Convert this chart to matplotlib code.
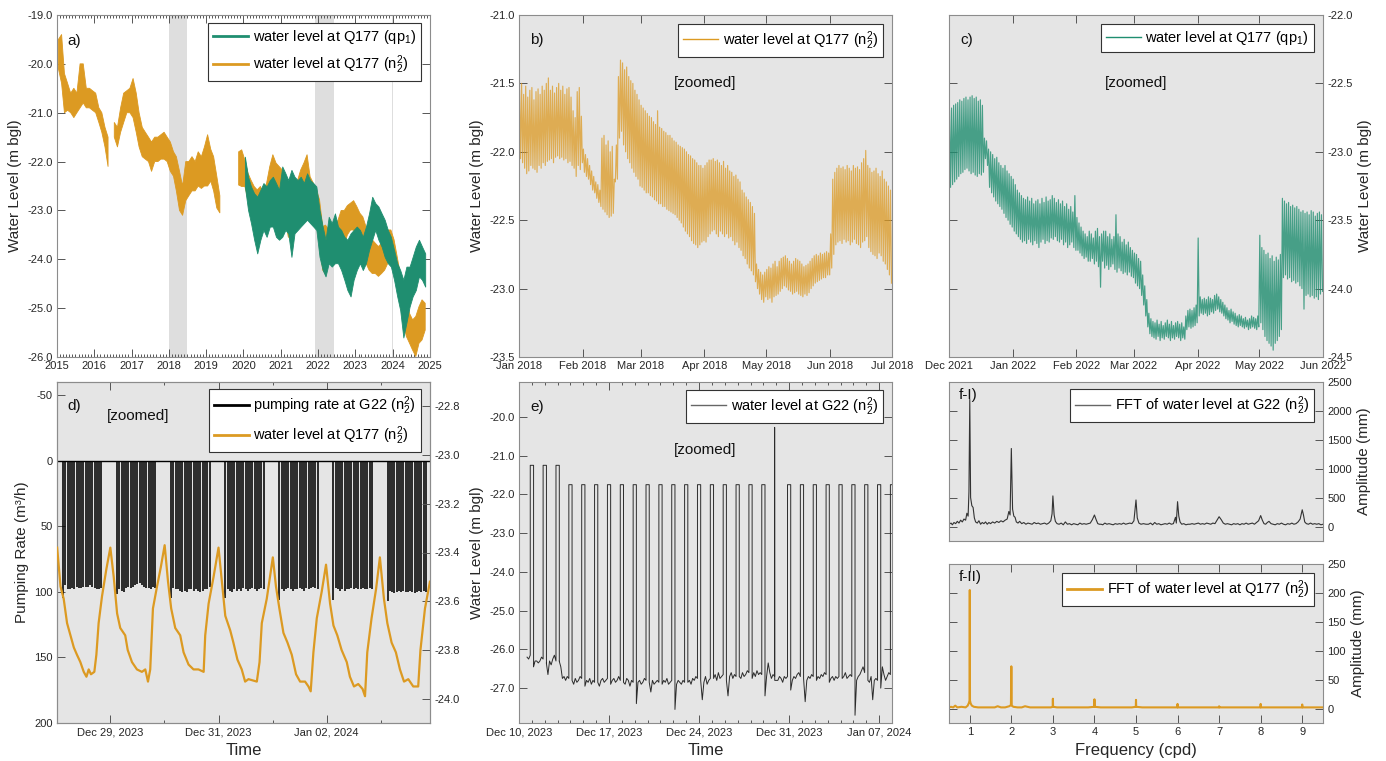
import numpy as np
import matplotlib
matplotlib.use('Agg')
import matplotlib.pyplot as plt
import matplotlib.dates as mdates
from matplotlib.lines import Line2D

plt.rcParams['font.family'] = ['Liberation Sans', 'DejaVu Sans']
plt.rcParams['mathtext.fontset'] = 'custom'
plt.rcParams['mathtext.rm'] = 'Liberation Sans'
plt.rcParams['mathtext.it'] = 'Liberation Sans:italic'
plt.rcParams['mathtext.default'] = 'regular'
plt.rcParams['axes.unicode_minus'] = False

ORANGE = '#DC9A22'
GREEN = '#1F8E70'
BG = '#E5E5E5'
SPAN = '#DEDEDE'
EDGE = '#8C8C8C'
TXT = '#262626'

# ---------------- data ----------------
# zoom windows
b_window = ('2018-01-01', '2018-07-01')
c_window = ('2021-12-01', '2022-06-01')
d_window = ('2023-12-28T00:20', '2024-01-03T21:50')
e_window = ('2023-12-10', '2024-01-08')

# a) monthly high / low of the noisy band, Q177 n2^2 from Jan 2015, qp1 from Jan 2020
a_n_start = '2015-01'
a_n_high = [
    -19.5, -19.4, -20.2, -20.4, -20.6, -20.5, -20.6, -20.0, -20.0, -20.5, -20.5, -20.55,
    -20.6, -20.9, -21.0, -21.3, -21.5, np.nan, -21.2, -21.3, -20.9, -20.6, -20.55, -20.5,
    -20.3, -20.6, -21.0, -21.3, -21.4, -21.5, -21.6, -21.5, -21.5, -21.45, -21.4, -21.5,
    -21.6, -21.8, -21.9, -22.2, -22.5, -22.0, -22.0, -21.9, -22.0, -21.8, -21.9, -21.7,
    -21.45, -21.75, -21.9, -22.3, -22.7, np.nan, np.nan, np.nan, np.nan, np.nan, -21.8, -21.76,
    -21.97, -22.24, -22.38, -22.51, -22.58, -22.51, -22.65, -22.44, -22.10, -21.86, -22.03, -22.10,
    -22.17, -22.31, -22.44, -22.58, -22.51, -22.38, -22.17, -22.03, -21.86, -22.31, -22.44, -22.58,
    -22.78, -23.33, -23.30, -23.40, -23.30, -23.30, -23.20, -23.00, -23.00, -22.90, -22.85, -22.80,
    -22.92, -23.06, -23.13, -23.33, -23.54, -23.60, -23.67, -23.74, -23.67, -23.54, -23.40, -23.40,
    -23.60, -23.95, -24.29, -24.56, -24.83, -25.11, -25.24, -25.17, -24.97, -24.83, -24.90]
a_n_low = [
    -20.1, -20.4, -21.0, -20.95, -21.0, -21.1, -21.0, -20.9, -20.8, -20.9, -20.9, -20.95,
    -21.0, -21.2, -21.4, -21.7, -22.1, np.nan, -21.5, -21.7, -21.4, -21.2, -21.0, -21.0,
    -21.1, -21.4, -21.7, -21.9, -21.95, -22.0, -22.2, -22.0, -22.0, -21.95, -21.95, -22.0,
    -22.2, -22.3, -22.6, -23.0, -23.1, -22.8, -22.7, -22.6, -22.6, -22.5, -22.55, -22.5,
    -22.5, -22.4, -22.6, -22.95, -23.05, np.nan, np.nan, np.nan, np.nan, np.nan, -22.48, -22.51,
    -22.51, -22.78, -22.99, -23.26, -23.40, -23.33, -23.19, -22.92, -22.78, -22.65, -22.78, -22.92,
    -23.06, -23.19, -23.54, -23.60, -23.40, -23.26, -22.92, -22.72, -22.58, -22.92, -22.99, -23.26,
    -23.67, -24.22, -24.30, -24.00, -24.00, -24.00, -23.90, -23.80, -23.70, -23.50, -23.40, -23.40,
    -23.54, -23.60, -23.81, -24.08, -24.22, -24.29, -24.29, -24.35, -24.29, -24.22, -24.08, -24.01,
    -24.22, -24.56, -24.90, -25.31, -25.58, -25.72, -25.86, -25.99, -25.72, -25.65, -25.45]
a_qp_start = '2020-01'
a_qp_high = [
    -21.90, -22.31, -22.51, -22.65, -22.72, -22.58, -22.44, -22.51, -22.38, -22.31, -22.44, -22.58,
    -22.10, -22.24, -22.38, -22.17, -22.31, -22.38, -22.31, -22.44, -22.24, -22.38, -22.44, -22.51,
    -22.99, -23.33, -23.60, -23.13, -23.26, -23.06, -23.33, -23.40, -23.54, -23.60, -23.47, -23.40,
    -23.33, -23.40, -23.54, -23.33, -23.06, -22.72, -22.85, -22.92, -23.06, -23.19, -23.40, -23.54,
    -23.81, -24.08, -24.22, -24.42, -24.15, -24.15, -23.95, -23.74, -23.60, -23.74, -23.88]
a_qp_low = [
    -22.51, -22.99, -23.26, -23.60, -23.88, -23.60, -23.40, -23.54, -23.33, -23.33, -23.54, -23.60,
    -23.54, -23.40, -23.47, -23.95, -23.47, -23.40, -23.33, -23.26, -23.19, -23.26, -23.33, -23.40,
    -23.95, -24.22, -24.35, -24.08, -24.15, -24.08, -24.08, -24.22, -24.42, -24.63, -24.76, -24.42,
    -24.22, -24.08, -24.22, -24.08, -23.81, -23.60, -23.40, -23.60, -23.74, -23.95, -24.08, -24.15,
    -24.42, -24.76, -25.04, -25.60, -25.30, -24.97, -24.76, -24.63, -24.35, -24.42, -24.56]

# b) daily high / low, Q177 n2^2, Jan-Jun 2018
b_high = [
    -21.55, -21.50, -21.58, -21.52, -21.60, -21.55, -21.53, -21.62, -21.56, -21.54, -21.58, -21.52, -21.55, -21.50, -21.46, -21.55,
    -21.52, -21.57, -21.53, -21.50, -21.55, -21.52, -21.58, -21.54, -21.53, -21.60, -21.70, -21.75, -21.56, -21.53, -21.74,
    -21.98, -22.02, -22.05, -22.10, -22.14, -22.18, -22.22, -22.24, -22.28, -21.90, -21.88, -21.95, -21.92, -22.00, -21.96,
    -22.20, -21.95, -21.45, -21.33, -21.35, -21.40, -21.38, -21.45, -21.48, -21.50, -21.55, -21.58, -21.62,
    -21.66, -21.68, -21.70, -21.72, -21.74, -21.75, -21.78, -21.80, -21.70, -21.82, -21.83, -21.85, -21.86, -21.88, -21.88, -21.90,
    -21.92, -21.93, -21.95, -21.96, -21.97, -21.98, -22.00, -22.02, -22.03, -22.05, -22.06, -22.08, -22.10, -22.10, -22.12,
    -22.10, -22.08, -22.06, -22.06, -22.05, -22.07, -22.06, -22.08, -22.10, -22.07, -22.12, -22.10, -22.14, -22.15, -22.18,
    -22.17, -22.20, -22.22, -22.28, -22.30, -22.33, -22.35, -22.37, -22.40, -22.45, -22.82, -22.86, -22.88, -22.90, -22.88,
    -22.86, -22.84, -22.85, -22.82, -22.80, -22.84, -22.80, -22.78, -22.77, -22.76, -22.78, -22.80, -22.82, -22.80, -22.78, -22.79,
    -22.80, -22.82, -22.84, -22.83, -22.82, -22.80, -22.78, -22.76, -22.75, -22.76, -22.74, -22.75, -22.74, -22.73, -22.74,
    -22.60, -22.20, -22.15, -22.12, -22.10, -22.12, -22.11, -22.13, -22.10, -22.12, -22.14, -22.10, -22.12, -22.11, -22.13,
    -22.08, -22.05, -21.99, -22.10, -22.12, -22.15, -22.14, -22.12, -22.16, -22.18, -22.14, -22.20, -22.22, -22.25, -22.28]
b_low = [
    -22.05, -22.08, -22.12, -22.16, -22.14, -22.10, -22.12, -22.13, -22.15, -22.10, -22.12, -22.08, -22.10, -22.07, -22.06, -22.05,
    -22.08, -22.04, -22.03, -22.05, -22.04, -22.06, -22.05, -22.08, -22.07, -22.10, -22.12, -22.18, -22.10, -22.13, -22.08,
    -22.15, -22.18, -22.20, -22.24, -22.28, -22.30, -22.34, -22.37, -22.40, -22.42, -22.44, -22.46, -22.48, -22.47, -22.45,
    -22.22, -22.20, -21.90, -21.85, -21.95, -22.00, -22.05, -22.08, -22.12, -22.15, -22.18, -22.20, -22.25,
    -22.26, -22.28, -22.30, -22.30, -22.32, -22.33, -22.35, -22.36, -22.38, -22.38, -22.40, -22.40, -22.42, -22.43, -22.44, -22.45,
    -22.46, -22.48, -22.50, -22.52, -22.55, -22.58, -22.60, -22.62, -22.65, -22.67, -22.68, -22.70, -22.68, -22.66, -22.65,
    -22.66, -22.62, -22.60, -22.58, -22.57, -22.60, -22.62, -22.58, -22.60, -22.62, -22.60, -22.63, -22.62, -22.65, -22.68,
    -22.66, -22.70, -22.72, -22.76, -22.78, -22.82, -22.85, -22.87, -22.90, -22.95, -23.00, -23.04, -23.08, -23.10, -23.06,
    -23.08, -23.07, -23.10, -23.06, -23.05, -23.04, -23.02, -23.00, -22.98, -22.99, -23.01, -23.02, -23.04, -23.03, -23.02, -23.04,
    -23.05, -23.06, -23.04, -23.05, -23.03, -23.00, -22.98, -22.96, -22.95, -22.94, -22.93, -22.92, -22.92, -22.90, -22.90,
    -22.85, -22.75, -22.68, -22.66, -22.65, -22.67, -22.64, -22.66, -22.65, -22.68, -22.66, -22.64, -22.67, -22.68, -22.70,
    -22.66, -22.65, -22.62, -22.70, -22.73, -22.75, -22.76, -22.78, -22.74, -22.76, -22.80, -22.82, -22.86, -22.90, -22.96]

# c) daily high / low, Q177 qp1, Dec 2021 - May 2022
c_high = [
    -22.70, -22.68, -22.66, -22.65, -22.64, -22.62, -22.63, -22.61, -22.60, -22.62, -22.60, -22.59, -22.61, -22.60, -22.63, -22.62,
    -22.66, -22.90, -22.92, -22.98, -23.00, -23.02, -23.05, -23.04, -23.08, -23.10, -23.12, -23.10, -23.14, -23.16, -23.18,
    -23.20, -23.24, -23.28, -23.30, -23.32, -23.34, -23.35, -23.33, -23.36, -23.34, -23.38, -23.36, -23.35, -23.38, -23.34, -23.37,
    -23.33, -23.36, -23.35, -23.32, -23.34, -23.37, -23.35, -23.38, -23.36, -23.40, -23.38, -23.42, -23.40, -23.44, -23.32,
    -23.48, -23.52, -23.55, -23.58, -23.60, -23.62, -23.58, -23.60, -23.63, -23.58, -23.56, -23.62, -23.60, -23.58,
    -23.58, -23.62, -23.60, -23.64, -23.62, -23.46, -23.60, -23.62, -23.66, -23.64, -23.68, -23.66, -23.70, -23.72,
    -23.74, -23.75, -23.78, -23.80, -23.90, -23.98, -24.08, -24.18, -24.22, -24.24, -24.25, -24.23, -24.26, -24.24, -24.27, -24.25,
    -24.23, -24.26, -24.24, -24.27, -24.25, -24.24, -24.26, -24.25, -24.28, -24.20, -24.16, -24.15, -24.16, -24.14, -24.12,
    -23.63, -24.06, -24.08, -24.07, -24.08, -24.06, -24.07, -24.08, -24.05, -24.04, -24.06, -24.08, -24.10, -24.12, -24.14,
    -24.16, -24.15, -24.17, -24.18, -24.20, -24.19, -24.20, -24.22, -24.21, -24.23, -24.22, -24.20, -24.21, -24.22, -24.20,
    -23.61, -23.70, -23.72, -23.75, -23.74, -23.78, -23.76, -23.80, -23.77, -23.79, -23.75, -23.34, -23.36, -23.38, -23.37, -23.40,
    -23.39, -23.41, -23.40, -23.42, -23.44, -23.43, -23.45, -23.44, -23.46, -23.43, -23.44, -23.47, -23.45, -23.44, -23.46]
c_low = [
    -23.26, -23.24, -23.22, -23.20, -23.18, -23.16, -23.15, -23.13, -23.12, -23.14, -23.16, -23.15, -23.17, -23.18, -23.16, -23.17,
    -23.15, -23.05, -23.10, -23.26, -23.30, -23.33, -23.36, -23.38, -23.40, -23.42, -23.45, -23.48, -23.50, -23.53, -23.55,
    -23.58, -23.60, -23.62, -23.64, -23.66, -23.65, -23.67, -23.64, -23.66, -23.68, -23.65, -23.67, -23.70, -23.66, -23.64, -23.67,
    -23.65, -23.66, -23.63, -23.64, -23.62, -23.65, -23.66, -23.64, -23.68, -23.66, -23.70, -23.68, -23.66, -23.70, -23.72,
    -23.72, -23.74, -23.76, -23.78, -23.77, -23.80, -23.80, -23.78, -23.82, -23.80, -23.84, -23.99, -23.80, -23.85,
    -23.83, -23.86, -23.84, -23.82, -23.86, -23.88, -23.85, -23.87, -23.89, -23.88, -23.90, -23.88, -23.91, -23.92,
    -23.96, -23.98, -24.00, -24.05, -24.12, -24.20, -24.28, -24.33, -24.35, -24.36, -24.37, -24.35, -24.38, -24.36, -24.37, -24.35,
    -24.36, -24.38, -24.36, -24.37, -24.35, -24.36, -24.38, -24.36, -24.37, -24.30, -24.28, -24.29, -24.28, -24.27, -24.25,
    -24.20, -24.18, -24.19, -24.18, -24.20, -24.19, -24.17, -24.18, -24.16, -24.15, -24.17, -24.18, -24.20, -24.22, -24.23,
    -24.25, -24.24, -24.26, -24.27, -24.28, -24.27, -24.28, -24.29, -24.28, -24.30, -24.29, -24.28, -24.29, -24.30, -24.28,
    -24.25, -24.30, -24.35, -24.38, -24.40, -24.42, -24.45, -24.40, -24.38, -24.35, -24.30, -23.92, -23.90, -23.93, -23.92, -23.95,
    -23.94, -23.96, -23.95, -23.98, -24.00, -24.15, -24.05, -24.04, -24.06, -24.05, -24.07, -24.06, -24.08, -24.04, -24.02]

# d) water level at Q177 (hours after 28 Dec 2023 00:00) and pumping at G22
d_origin = '2023-12-28T00:00'
d_wl_hours = [0.4, 1.9, 3.3, 4.8, 6.3, 7.8, 9.2, 10.7, 12.2, 13.4, 14.4, 15.4, 16.9, 17.8, 18.8, 20.3, 22.2, 24.0,
              25.5, 27.0, 28.4, 30.6, 31.7, 33.6, 35.8, 38.0, 39.5, 40.7, 41.7, 42.9, 44.7, 46.4, 48.1,
              49.6, 51.0, 52.8, 55.0, 56.5, 58.7, 60.9, 63.1, 65.4, 66.1, 67.6, 69.8, 72.0,
              73.5, 75.0, 77.2, 78.6, 80.4, 82.3, 83.8, 85.3, 89.0, 90.2, 91.2, 93.4, 96.1,
              97.5, 99.0, 100.8, 102.6, 104.5, 106.4, 108.2, 110.4, 111.9, 112.9, 114.1, 115.6, 117.8, 119.7,
              121.5, 123.0, 124.7, 126.6, 128.9, 130.3, 132.1, 134.0, 135.9, 137.0, 138.0, 139.9, 141.9, 143.6,
              145.4, 146.9, 148.8, 150.7, 152.5, 154.3, 156.2, 158.4, 160.6, 161.6, 163.6, 165.8]
d_wl = [-23.38, -23.54, -23.59, -23.69, -23.74, -23.79, -23.82, -23.85, -23.89, -23.91, -23.88, -23.90, -23.89, -23.82, -23.69, -23.58, -23.47, -23.38,
        -23.50, -23.65, -23.71, -23.74, -23.80, -23.85, -23.88, -23.89, -23.88, -23.93, -23.88, -23.63, -23.54, -23.46, -23.37,
        -23.52, -23.63, -23.71, -23.74, -23.81, -23.86, -23.88, -23.88, -23.89, -23.74, -23.61, -23.50, -23.38,
        -23.52, -23.66, -23.72, -23.77, -23.84, -23.88, -23.93, -23.92, -23.93, -23.85, -23.69, -23.59, -23.42,
        -23.54, -23.63, -23.73, -23.77, -23.82, -23.90, -23.93, -23.93, -23.95, -23.97, -23.81, -23.67, -23.56, -23.45,
        -23.61, -23.70, -23.74, -23.80, -23.85, -23.91, -23.95, -23.94, -23.96, -23.99, -23.81, -23.67, -23.55, -23.42,
        -23.59, -23.69, -23.77, -23.81, -23.88, -23.93, -23.92, -23.95, -23.95, -23.80, -23.63, -23.52]
d_pump_start_hours = [3, 27, 51, 75, 99, 123, 147]
d_pump_rates = [
    [105, 95, 98, 98, 97, 98, 96, 97, 97, 96, 96, 96, 95, 96, 97, 98, 98, 97],
    [102, 98, 99, 100, 97, 96, 97, 96, 95, 94, 93, 95, 96, 97, 97, 98, 96, 97],
    [105, 97, 98, 98, 99, 100, 99, 100, 98, 98, 99, 98, 99, 100, 99, 98, 98, 96],
    [105, 98, 99, 100, 98, 99, 98, 99, 97, 98, 99, 98, 97, 98, 99, 98, 97, 98],
    [106, 98, 99, 98, 97, 98, 99, 98, 98, 97, 98, 99, 97, 98, 97, 96, 97, 98],
    [106, 97, 98, 99, 98, 99, 98, 98, 97, 98, 97, 98, 98, 97, 98, 98, 97, 98],
    [107, 99, 100, 101, 100, 99, 100, 99, 100, 100, 99, 100, 101, 100, 99, 100, 99, 100]]
d_tick_days = [29, 31, 2]

# e) water level at G22, one row per day from 10 Dec 2023, sampled at these hours
e_origin = '2023-12-10T00:00'
e_sample_hours = [3, 6, 9, 12, 15, 18, 21]
e_base = [
    [np.nan, np.nan, np.nan, np.nan, -26.20, -26.25, -26.15],
    [-26.45, -26.30, -26.30, -26.35, -26.30, -26.20, -26.25],
    [-26.35, -26.65, -26.30, -26.40, -26.25, -26.15, -26.30],
    [-26.30, -26.45, -26.75, -26.70, -26.80, -26.70, -26.75],
    [-26.80, -26.90, -26.75, -26.85, -26.80, -26.70, -26.75],
    [-26.95, -26.80, -26.85, -26.75, -26.90, -26.80, -26.85],
    [-26.85, -26.95, -26.80, -26.75, -26.85, -26.80, -26.75],
    [-26.90, -26.80, -26.75, -26.85, -26.80, -26.70, -26.80],
    [-26.85, -26.90, -26.75, -26.80, -26.95, -26.80, -26.85],
    [-27.40, -26.85, -26.80, -26.90, -26.85, -26.75, -26.80],
    [-26.85, -27.10, -26.80, -26.90, -26.85, -26.80, -26.85],
    [-26.90, -26.80, -26.85, -26.75, -26.90, -26.85, -26.80],
    [-27.55, -26.90, -26.80, -26.85, -26.90, -26.80, -26.85],
    [-26.85, -26.80, -26.90, -26.75, -26.80, -26.70, -26.75],
    [-26.80, -27.30, -26.85, -26.70, -26.90, -26.80, -26.75],
    [-26.75, -26.65, -26.80, -26.60, -26.75, -26.70, -26.65],
    [-26.80, -27.20, -26.70, -26.60, -26.75, -26.65, -26.70],
    [-26.70, -26.75, -26.60, -26.70, -26.65, -26.55, -26.60],
    [-26.75, -26.60, -26.70, -26.55, -26.65, -26.60, -26.65],
    [-27.20, -26.70, -26.35, -26.60, -26.75, -26.65, -26.70],
    [-26.80, -26.70, -26.75, -26.85, -26.70, -26.75, -26.70],
    [-27.05, -26.80, -26.70, -26.75, -26.65, -26.60, -26.70],
    [-26.75, -27.35, -26.80, -26.70, -26.75, -26.65, -26.70],
    [-26.80, -26.70, -26.75, -26.65, -26.70, -26.60, -26.65],
    [-26.85, -26.75, -26.70, -26.80, -26.70, -26.75, -26.70],
    [-26.75, -26.70, -26.60, -26.75, -26.70, -26.65, -26.70],
    [-27.70, -26.80, -26.70, -26.65, -26.55, -26.45, -26.60],
    [-26.80, -26.85, -26.70, -27.30, -26.80, -26.75, -26.80],
    [-27.00, -26.45, -26.65, -26.80, -26.70, -26.60, -26.65]]
e_top = [-21.25, -21.25, -21.25, -21.75, -21.75, -21.75, -21.75, -21.75, -21.75, -21.75,
         -21.75, -21.75, -21.75, -21.75, -21.75, -21.75, -21.75, -21.75, -21.75, -20.27,
         -21.75, -21.75, -21.75, -21.75, -21.75, -21.75, -21.75, -21.75, -21.75]
e_off_hours = [6.2, 6.2, 6.2, 6.0, 6.0, 6.0, 6.0, 6.0, 6.0, 6.0,
               6.0, 6.0, 6.0, 6.0, 6.0, 6.0, 6.0, 6.0, 6.0, 0.2,
               6.0, 6.0, 6.0, 6.0, 6.0, 6.0, 6.0, 6.0, 6.0]
e_tick_days = [10, 17, 24, 31, 7]

# f-I) FFT amplitude of G22 (mm)
f1_freq = [
    0.50, 0.55, 0.58, 0.62, 0.66, 0.70, 0.74, 0.78, 0.82, 0.86,
    0.90, 0.93, 0.96, 0.98, 1.00, 1.02, 1.05, 1.08, 1.11, 1.14,
    1.18, 1.22, 1.26, 1.30, 1.34, 1.38, 1.42, 1.46, 1.50, 1.55,
    1.60, 1.65, 1.70, 1.75, 1.80, 1.85, 1.90, 1.94, 1.97, 2.00,
    2.03, 2.06, 2.09, 2.12, 2.16, 2.20, 2.25, 2.30, 2.35, 2.40,
    2.45, 2.50, 2.55, 2.60, 2.65, 2.70, 2.75, 2.80, 2.85, 2.90,
    2.95, 2.98, 3.00, 3.03, 3.06, 3.10, 3.15, 3.20, 3.25, 3.30,
    3.35, 3.40, 3.45, 3.50, 3.55, 3.60, 3.65, 3.70, 3.75, 3.80,
    3.85, 3.90, 3.95, 4.00, 4.04, 4.08, 4.12, 4.16, 4.20, 4.25,
    4.30, 4.35, 4.40, 4.45, 4.50, 4.55, 4.60, 4.65, 4.70, 4.75,
    4.80, 4.85, 4.90, 4.95, 5.00, 5.03, 5.07, 5.12, 5.18, 5.24,
    5.30, 5.35, 5.40, 5.45, 5.50, 5.55, 5.60, 5.65, 5.70, 5.75,
    5.80, 5.85, 5.90, 5.95, 5.97, 6.00, 6.03, 6.06, 6.10, 6.15,
    6.20, 6.25, 6.30, 6.35, 6.40, 6.45, 6.50, 6.55, 6.60, 6.65,
    6.70, 6.75, 6.80, 6.85, 6.90, 6.95, 7.00, 7.05, 7.10, 7.15,
    7.20, 7.25, 7.30, 7.35, 7.40, 7.45, 7.50, 7.55, 7.60, 7.65,
    7.70, 7.75, 7.80, 7.85, 7.90, 7.95, 8.00, 8.04, 8.08, 8.12,
    8.16, 8.20, 8.25, 8.30, 8.35, 8.40, 8.45, 8.50, 8.55, 8.60,
    8.65, 8.70, 8.75, 8.80, 8.85, 8.90, 8.95, 9.00, 9.03, 9.06,
    9.10, 9.15, 9.20, 9.25, 9.30, 9.35, 9.40, 9.45, 9.50]
f1_amp = [
    40, 60, 30, 70, 50, 90, 60, 110, 80, 130,
    110, 230, 180, 600, 2200, 500, 360, 330, 150, 80,
    60, 100, 40, 70, 50, 80, 40, 70, 50, 80,
    60, 90, 70, 100, 80, 110, 130, 260, 200, 1350,
    300, 180, 160, 80, 60, 90, 50, 70, 40, 60,
    50, 40, 70, 50, 60, 40, 50, 60, 40, 60,
    100, 220, 530, 200, 90, 50, 40, 60, 30, 80,
    40, 50, 30, 50, 40, 30, 60, 40, 50, 40,
    50, 60, 120, 200, 120, 50, 40, 40, 30, 60,
    40, 50, 40, 30, 50, 40, 50, 40, 60, 40,
    50, 60, 50, 100, 460, 150, 60, 40, 50, 40,
    40, 60, 30, 70, 40, 50, 30, 40, 50, 40,
    60, 40, 50, 160, 60, 430, 180, 80, 40, 50,
    30, 40, 40, 50, 40, 50, 60, 40, 50, 40,
    60, 50, 40, 60, 50, 110, 170, 120, 60, 40,
    50, 40, 30, 50, 40, 50, 30, 50, 40, 60,
    40, 50, 60, 40, 70, 100, 190, 110, 50, 40,
    70, 90, 50, 40, 30, 50, 40, 60, 40, 30,
    50, 40, 60, 40, 50, 80, 130, 290, 200, 80,
    50, 40, 60, 40, 50, 40, 50, 30, 40]

# f-II) FFT amplitude of Q177 (mm)
f2_freq = [
    0.50, 0.55, 0.60, 0.65, 0.70, 0.80, 0.90, 0.95, 0.98, 0.995,
    1.00, 1.005, 1.02, 1.05, 1.10, 1.20, 1.30, 1.40, 1.50, 1.60,
    1.67, 1.75, 1.85, 1.95, 1.99, 2.00, 2.01, 2.05, 2.15, 2.25,
    2.33, 2.45, 2.55, 2.65, 2.75, 2.85, 2.95, 2.995, 3.00, 3.005,
    3.10, 3.25, 3.40, 3.55, 3.70, 3.85, 3.995, 4.00, 4.005, 4.15,
    4.30, 4.45, 4.60, 4.75, 4.90, 4.995, 5.00, 5.005, 5.15, 5.30,
    5.45, 5.60, 5.75, 5.90, 5.995, 6.00, 6.005, 6.15, 6.30, 6.45,
    6.60, 6.75, 6.90, 6.995, 7.00, 7.005, 7.15, 7.30, 7.45, 7.60,
    7.75, 7.90, 7.995, 8.00, 8.005, 8.15, 8.30, 8.45, 8.60, 8.75,
    8.90, 8.995, 9.00, 9.005, 9.15, 9.30, 9.50]
f2_amp = [
    2, 3, 2, 5, 2, 3, 2, 5, 10, 14,
    205, 14, 9, 5, 3, 2, 2, 2, 2, 2,
    4, 2, 2, 4, 6, 73, 5, 3, 2, 2,
    4, 2, 2, 2, 2, 2, 2, 3, 17, 3,
    2, 2, 2, 2, 2, 2, 3, 16, 3, 2,
    2, 2, 2, 2, 2, 3, 15, 3, 2, 2,
    2, 2, 2, 2, 2, 8, 2, 2, 2, 2,
    2, 2, 2, 2, 4, 2, 2, 2, 2, 2,
    2, 2, 2, 8, 2, 2, 2, 2, 2, 2,
    2, 2, 7, 2, 2, 2, 2]

N22 = 'n$_2^2$'
QP1 = 'qp$_1$'


# ---------------- helpers ----------------
def hours_after(origin, hours):
    mins = np.round(np.asarray(hours, dtype=float) * 60).astype('int64')
    return np.datetime64(origin, 'm') + mins.astype('timedelta64[m]')


def mid_month(start, n):
    months = np.datetime64(start, 'M') + np.arange(n)
    return months.astype('datetime64[D]') + np.timedelta64(14, 'D')


def daily_cycle(start, highs, lows):
    day_h = np.arange(len(highs)) * 24
    t = np.stack([hours_after(start, day_h + 6), hours_after(start, day_h + 18)], axis=1).ravel()
    v = np.stack([highs, lows], axis=1).ravel()
    return t, v


W, H = 1386, 761


def box(l, t, r, b):
    return [l / W, 1 - b / H, (r - l) / W, (b - t) / H]


def style(ax, bg=BG, right=True, top=True):
    ax.set_facecolor(bg)
    for s in ax.spines.values():
        s.set_color(EDGE)
        s.set_linewidth(0.8)
    ax.tick_params(which='both', direction='in', color='#555555', labelcolor=TXT,
                   labelsize=8, top=top, right=right, width=0.7, pad=3)
    ax.tick_params(which='major', length=5.5)
    ax.tick_params(which='minor', length=2.5)


def legend(ax, handles, labels, x, y):
    lg = ax.legend(handles, labels, loc='upper right', bbox_to_anchor=(x, y),
                   borderaxespad=0, fontsize=10.5, frameon=True, fancybox=False,
                   framealpha=1, edgecolor='#333333', handlelength=2.4,
                   handletextpad=0.3, borderpad=0.35, labelspacing=0.5)
    lg.get_frame().set_linewidth(0.8)
    lg.set_zorder(10)
    return lg


def panel_text(ax, x, y, s):
    ax.text(x, y, s, transform=ax.transAxes, fontsize=11, color='#111111', ha='left', va='center')


fig = plt.figure(figsize=(W / 100, H / 100), dpi=100)
LBL = 11

# ---------------- a) ----------------
ax = fig.add_axes(box(57, 15, 430, 357))
style(ax, bg='white')
for w in (b_window, c_window, d_window):
    ax.axvspan(np.datetime64(w[0]), np.datetime64(w[1]), color=SPAN, lw=0, zorder=0)
t = mid_month(a_n_start, len(a_n_high))
ax.fill_between(t, a_n_high, a_n_low, color=ORANGE, lw=0.6, edgecolor=ORANGE, zorder=2)
t = mid_month(a_qp_start, len(a_qp_high))
ax.fill_between(t, a_qp_high, a_qp_low, color=GREEN, lw=0.6, edgecolor=GREEN, zorder=3)
ax.set_xlim(np.datetime64('2015-01-01'), np.datetime64('2025-01-01'))
ax.set_ylim(-26, -19)
ax.set_yticks(np.arange(-26, -18.5, 1.0))
ax.yaxis.set_major_formatter(plt.FormatStrFormatter('%.1f'))
ax.xaxis.set_major_locator(mdates.YearLocator())
ax.xaxis.set_minor_locator(mdates.MonthLocator())
ax.xaxis.set_major_formatter(mdates.DateFormatter('%Y'))
ax.set_ylabel('Water Level (m bgl)', fontsize=LBL, color=TXT)
panel_text(ax, 0.027, 0.924, 'a)')
legend(ax, [Line2D([], [], color=GREEN, lw=2), Line2D([], [], color=ORANGE, lw=2)],
       [f'water level at Q177 ({QP1})', f'water level at Q177 ({N22})'], 0.976, 0.977)

# ---------------- b) ----------------
ax = fig.add_axes(box(519, 15, 892, 357))
style(ax)
t, v = daily_cycle(b_window[0], b_high, b_low)
ax.plot(t, v, color=ORANGE, lw=0.85, alpha=0.75)
ax.set_xlim(np.datetime64(b_window[0]), np.datetime64(b_window[1]))
ax.set_ylim(-23.5, -21.0)
ax.set_yticks(np.arange(-23.5, -20.9, 0.5))
ax.yaxis.set_major_formatter(plt.FormatStrFormatter('%.1f'))
ax.xaxis.set_major_locator(mdates.MonthLocator())
ax.xaxis.set_major_formatter(mdates.DateFormatter('%b %Y'))
ax.set_ylabel('Water Level (m bgl)', fontsize=LBL, color=TXT)
panel_text(ax, 0.03, 0.927, 'b)')
ax.text(0.5, 0.80, '[zoomed]', transform=ax.transAxes, fontsize=11, ha='center', va='center', color='#111111')
legend(ax, [Line2D([], [], color=ORANGE, lw=1)], [f'water level at Q177 ({N22})'], 0.976, 0.974)

# ---------------- c) ----------------
ax = fig.add_axes(box(949, 15, 1323, 357))
style(ax)
t, v = daily_cycle(c_window[0], c_high, c_low)
ax.plot(t, v, color=GREEN, lw=0.85, alpha=0.8)
ax.set_xlim(np.datetime64(c_window[0]), np.datetime64(c_window[1]))
ax.set_ylim(-24.5, -22.0)
ax.set_yticks(np.arange(-24.5, -21.9, 0.5))
ax.yaxis.set_major_formatter(plt.FormatStrFormatter('%.1f'))
ax.tick_params(labelleft=False, labelright=True)
ax.yaxis.set_label_position('right')
ax.xaxis.set_major_locator(mdates.MonthLocator())
ax.xaxis.set_major_formatter(mdates.DateFormatter('%b %Y'))
ax.set_ylabel('Water Level (m bgl)', fontsize=LBL, color=TXT)
panel_text(ax, 0.03, 0.927, 'c)')
ax.text(0.5, 0.80, '[zoomed]', transform=ax.transAxes, fontsize=11, ha='center', va='center', color='#111111')
legend(ax, [Line2D([], [], color=GREEN, lw=1)], [f'water level at Q177 ({QP1})'], 0.976, 0.974)

# ---------------- d) ----------------
ax = fig.add_axes(box(57, 382, 430, 723))
style(ax, right=False)
ax.axhline(0, color='black', lw=1.0, zorder=2)
ph, pr = [], []
for s, rates in zip(d_pump_start_hours, d_pump_rates):
    for i, r in enumerate(rates):
        ph.append(s + i)
        pr.append(r)
ax.vlines(hours_after(d_origin, ph), 0, pr, color='black', lw=1.15, zorder=2)
ax.set_ylim(200, -60)
ax.set_yticks([-50, 0, 50, 100, 150, 200])
ax.set_xlim(np.datetime64(d_window[0]), np.datetime64(d_window[1]))
ax.xaxis.set_major_locator(mdates.DayLocator(bymonthday=d_tick_days))
ax.xaxis.set_minor_locator(mdates.DayLocator())
ax.xaxis.set_major_formatter(mdates.DateFormatter('%b %d, %Y'))
ax.set_ylabel('Pumping Rate (m³/h)', fontsize=LBL, color=TXT)
ax.set_xlabel('Time', fontsize=12, color=TXT)
panel_text(ax, 0.027, 0.93, 'd)')
ax.text(0.218, 0.90, '[zoomed]', transform=ax.transAxes, fontsize=11, ha='center', va='center', color='#111111')
ax2 = ax.twinx()
ax2.tick_params(which='both', direction='in', color='#555555', labelcolor=TXT,
                labelsize=8, width=0.7, length=5.5, right=True, left=False, pad=3)
for s in ax2.spines.values():
    s.set_color(EDGE)
    s.set_linewidth(0.8)
ax2.plot(hours_after(d_origin, d_wl_hours), d_wl, color=ORANGE, lw=1.6, zorder=3)
ax2.set_ylim(-24.1, -22.7)
ax2.set_yticks(np.arange(-24.0, -22.75, 0.2))
ax2.yaxis.set_major_formatter(plt.FormatStrFormatter('%.1f'))
legend(ax2, [Line2D([], [], color='black', lw=2), Line2D([], [], color=ORANGE, lw=2)],
       [f'pumping rate at G22 ({N22})', f'water level at Q177 ({N22})'], 0.976, 0.979)

# ---------------- e) ----------------
ax = fig.add_axes(box(519, 382, 892, 723))
style(ax)
eh, ev = [], []
for k in range(len(e_base)):
    for h, val in zip(e_sample_hours, e_base[k]):
        eh.append(k * 24 + h)
        ev.append(val)
    t_on = k * 24 + e_sample_hours[-1]
    eh += [t_on, t_on + e_off_hours[k]]
    ev += [e_top[k], e_top[k]]
    if k + 1 < len(e_base):
        eh.append(t_on + e_off_hours[k])
        ev.append(e_base[k + 1][0])
ax.plot(hours_after(e_origin, eh), ev, color='#2b2b2b', lw=0.7)
ax.set_xlim(np.datetime64(e_window[0]), np.datetime64(e_window[1]))
ax.set_ylim(-27.9, -19.1)
ax.set_yticks(np.arange(-27, -19.5, 1.0))
ax.yaxis.set_major_formatter(plt.FormatStrFormatter('%.1f'))
ax.xaxis.set_major_locator(mdates.DayLocator(bymonthday=e_tick_days))
ax.xaxis.set_minor_locator(mdates.DayLocator())
ax.xaxis.set_major_formatter(mdates.DateFormatter('%b %d, %Y'))
ax.set_ylabel('Water Level (m bgl)', fontsize=LBL, color=TXT)
ax.set_xlabel('Time', fontsize=12, color=TXT)
panel_text(ax, 0.03, 0.927, 'e)')
ax.text(0.5, 0.80, '[zoomed]', transform=ax.transAxes, fontsize=11, ha='center', va='center', color='#111111')
legend(ax, [Line2D([], [], color='#666666', lw=1)], [f'water level at G22 ({N22})'], 0.976, 0.977)

# ---------------- f-I) ----------------
ax = fig.add_axes(box(949, 382, 1323, 541))
style(ax)
ax.plot(f1_freq, f1_amp, color='#333333', lw=0.8)
ax.set_xlim(0.5, 9.5)
ax.set_ylim(-250, 2500)
ax.set_yticks(np.arange(0, 2501, 500))
ax.tick_params(labelleft=False, labelright=True)
ax.tick_params(axis='x', which='both', bottom=False, top=False, labelbottom=False)
ax.yaxis.set_label_position('right')
ax.set_ylabel('Amplitude (mm)', fontsize=LBL, color=TXT)
panel_text(ax, 0.027, 0.92, 'f-I)')
legend(ax, [Line2D([], [], color='#666666', lw=1)], [f'FFT of water level at G22 ({N22})'], 0.976, 0.956)

# ---------------- f-II) ----------------
ax = fig.add_axes(box(949, 564, 1323, 723))
style(ax)
ax.plot(f2_freq, f2_amp, color=ORANGE, lw=1.5)
ax.set_xlim(0.5, 9.5)
ax.set_ylim(-25, 250)
ax.set_xticks(np.arange(1, 10))
ax.set_yticks(np.arange(0, 251, 50))
ax.tick_params(labelleft=False, labelright=True)
ax.yaxis.set_label_position('right')
ax.set_ylabel('Amplitude (mm)', fontsize=LBL, color=TXT)
ax.set_xlabel('Frequency (cpd)', fontsize=12, color=TXT)
panel_text(ax, 0.027, 0.92, 'f-II)')
legend(ax, [Line2D([], [], color=ORANGE, lw=2)], [f'FFT of water level at Q177 ({N22})'], 0.976, 0.943)

fig.savefig('out.png', dpi=100)
